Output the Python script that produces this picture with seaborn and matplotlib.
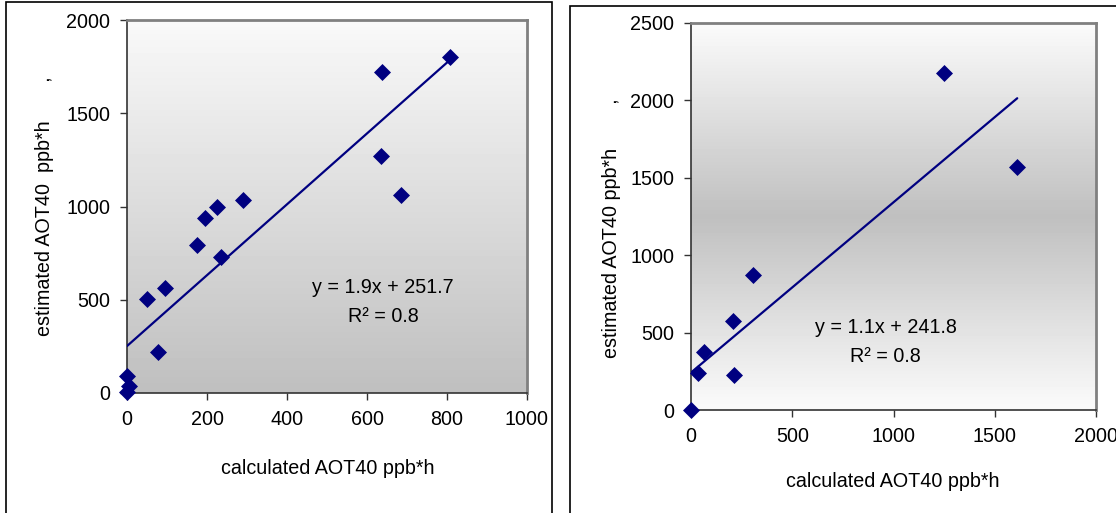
"""
Hai biểu đồ phân tán AOT40: ước tính vs tính toán, kèm đường hồi quy.
"""

import matplotlib
matplotlib.use("Agg")
import matplotlib.pyplot as plt
import numpy as np
import pandas as pd
import seaborn as sns
from matplotlib.patches import Rectangle

# --- Dữ liệu ---
left_calc = [808, 638, 634, 684, 291, 225, 196, 175, 236, 94, 50, 78, 0, 4, 0]
left_est = [1801, 1719, 1272, 1059, 1037, 995, 941, 792, 730, 562, 504, 222, 91, 39, 4]
left_slope, left_intercept = 1.9, 251.7

right_calc = [1247, 1611, 305, 208, 214, 65, 35, 0]
right_est = [2180, 1572, 874, 576, 227, 373, 237, 0]
right_slope, right_intercept = 1.1, 241.8

left_xticks = [0, 200, 400, 600, 800, 1000]
left_yticks = [0, 500, 1000, 1500, 2000]
right_xticks = [0, 500, 1000, 1500, 2000]
right_yticks = [0, 500, 1000, 1500, 2000, 2500]

NAVY = "#000080"
FS = 14.2


def style_axes(ax, xticks, yticks):
    ax.set_xlim(xticks[0], xticks[-1])
    ax.set_ylim(yticks[0], yticks[-1])
    ax.set_xticks(xticks)
    ax.set_yticks(yticks)
    ax.grid(False)
    for side in ["top", "right"]:
        ax.spines[side].set_color("#808080")
        ax.spines[side].set_linewidth(2)
    for side in ["left", "bottom"]:
        ax.spines[side].set_color("#333333")
        ax.spines[side].set_linewidth(1.2)
    ax.tick_params(direction="out", length=5, width=1, color="#333333",
                   labelsize=FS, labelcolor="black", pad=7, bottom=True, left=True)


def gradient(ax, values):
    g = np.array(values).reshape(-1, 1)
    ax.imshow(g, extent=[0, 1, 0, 1], transform=ax.transAxes, aspect="auto",
              cmap="gray", vmin=0, vmax=1, zorder=0, interpolation="bicubic")


def draw_panel(ax, calc, est, slope, intercept, xticks, yticks, grad, ylabel, eq_pos):
    df = pd.DataFrame({"calc": calc, "est": est})
    gradient(ax, grad)
    xs = np.array([df["calc"].min(), df["calc"].max()])
    sns.lineplot(x=xs, y=slope * xs + intercept, color=NAVY, linewidth=1.6, ax=ax, zorder=3)
    sns.scatterplot(data=df, x="calc", y="est", marker="D", color=NAVY, s=75,
                    edgecolor=NAVY, linewidth=0, ax=ax, zorder=4, clip_on=False)
    style_axes(ax, xticks, yticks)
    ax.set_xlabel("calculated AOT40 ppb*h", fontsize=FS, color="black")
    ax.set_ylabel(ylabel, fontsize=FS, va="center", color="black")
    ax.text(eq_pos[0], eq_pos[1], f"y = {slope}x + {intercept}", transform=ax.transAxes,
            ha="center", va="center", fontsize=FS, color="black")
    ax.text(eq_pos[0], eq_pos[2], "R² = 0.8", transform=ax.transAxes,
            ha="center", va="center", fontsize=FS, color="black")


sns.set_theme(style="white")
plt.rcParams["font.family"] = ["Liberation Sans", "DejaVu Sans"]
plt.rcParams["text.color"] = "black"

fig = plt.figure(figsize=(11.16, 5.13), dpi=100)

# Khung viền của hai ô biểu đồ
fig.patches.append(Rectangle((6 / 1116, -0.02), 546 / 1116, 1.02 - 2 / 513,
                             transform=fig.transFigure, fill=False, edgecolor="black",
                             linewidth=1.2))
fig.patches.append(Rectangle((570 / 1116, -0.02), 0.6, 1.02 - 6 / 513,
                             transform=fig.transFigure, fill=False, edgecolor="black",
                             linewidth=1.2))

ax1 = fig.add_axes([127 / 1116, 1 - 393 / 513, 400 / 1116, 373 / 513])
ax2 = fig.add_axes([691 / 1116, 1 - 410 / 513, 405 / 1116, 387 / 513])

left_grad = np.linspace(0.975, 0.75, 50)
right_grad = 0.75 + 0.23 * np.abs(np.linspace(-1, 1, 51))

draw_panel(ax1, left_calc, left_est, left_slope, left_intercept, left_xticks, left_yticks,
           left_grad, "estimated AOT40  ppb*h       ,", (0.64, 0.284, 0.206))
draw_panel(ax2, right_calc, right_est, right_slope, right_intercept, right_xticks, right_yticks,
           right_grad, "estimated AOT40 ppb*h        ,", (0.481, 0.212, 0.137))

ax1.yaxis.set_label_coords(-0.205, 0.5)
ax1.xaxis.set_label_coords(0.5025, -0.177)
ax2.yaxis.set_label_coords(-0.1975, 0.47)
ax2.xaxis.set_label_coords(0.499, -0.160)

plt.savefig("out.png", dpi=100)
plt.close()
